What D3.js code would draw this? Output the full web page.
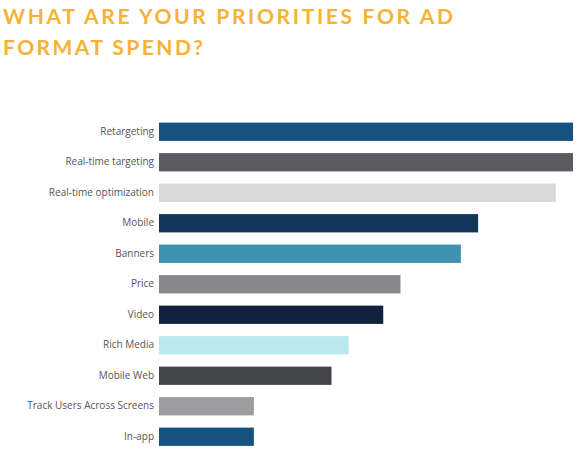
<!DOCTYPE html>
<html><head><meta charset="utf-8">
<script src="https://cdn.jsdelivr.net/npm/d3@7"></script>
<style>body{margin:0;background:#fff}svg{display:block}</style>
</head><body>
<script>
const categories = ["Retargeting","Real-time targeting","Real-time optimization","Mobile","Banners","Price","Video","Rich Media","Mobile Web","Track Users Across Screens","In-app"];
const values = [48,48,46,37,35,28,26,22,20,11,11];
const colors = ["#15527f","#5b5c61","#d8d8da","#13375a","#3b93b0","#87878b","#12213f","#b8e9f1","#434549","#9c9c9f","#15527f"];
const titleLines = ["WHAT ARE YOUR PRIORITIES FOR AD","FORMAT SPEND?"];

const W=579,H=457;
const svg=d3.select("body").append("svg").attr("width",W).attr("height",H);

const tw=[450,200];
svg.selectAll("text.title").data(titleLines).join("text")
  .attr("class","title")
  .attr("x",3).attr("y",(d,i)=>24+i*30.5)
  .attr("textLength",(d,i)=>tw[i]).attr("lengthAdjust","spacing")
  .attr("font-family","Lato, 'Open Sans', sans-serif").attr("font-weight",700)
  .attr("font-size",21).attr("fill","#f6b234").text(d=>d);

const x=d3.scaleLinear().domain([0,48]).range([159,573]);
const y=d3.scaleBand().domain(categories).range([116.5,452]).paddingInner(0.4).paddingOuter(0.2);

svg.selectAll("rect.bar").data(categories).join("rect")
  .attr("class","bar")
  .attr("x",x(0)).attr("y",d=>y(d))
  .attr("width",(d,i)=>x(values[i])-x(0)).attr("height",y.bandwidth())
  .attr("fill",(d,i)=>colors[i]);

const axis=d3.axisLeft(y).tickSize(0).tickPadding(5);
const g=svg.append("g").attr("transform",`translate(${x(0)},0)`).call(axis);
g.select(".domain").remove();
g.selectAll("text").attr("font-family","'Open Sans', sans-serif").attr("font-size",10).attr("fill","#555");
</script>
</body></html>
